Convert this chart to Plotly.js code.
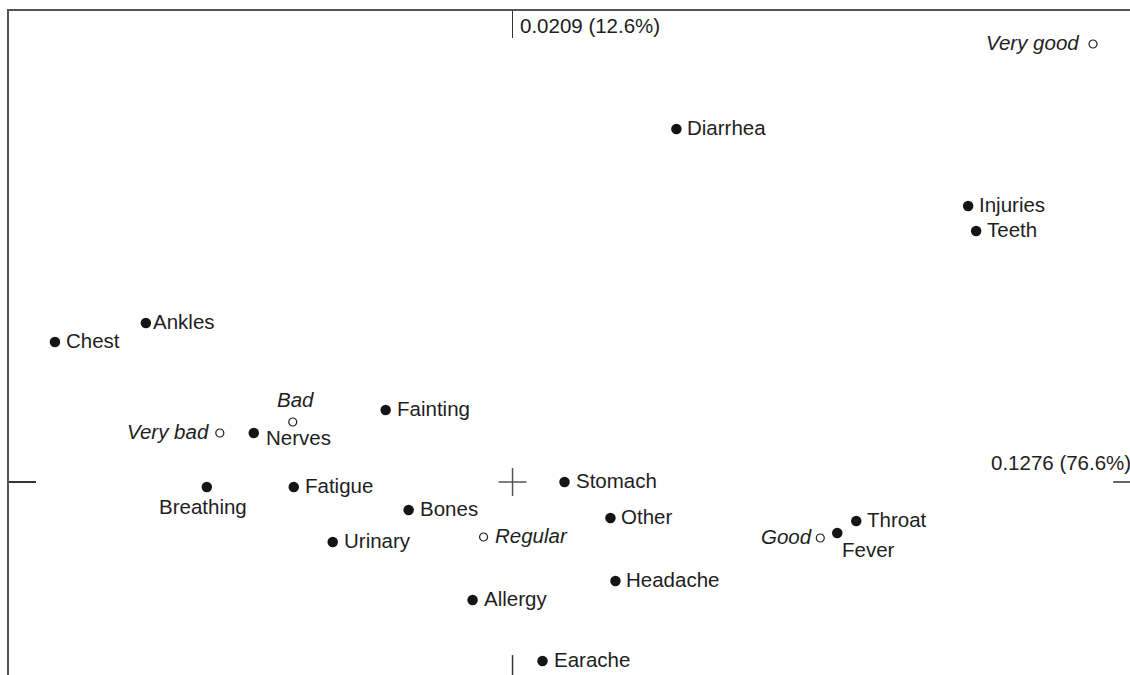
<!DOCTYPE html>
<html>
<head>
<meta charset="utf-8">
<script src="https://cdn.plot.ly/plotly-3.0.1.min.js"></script>
<style>html,body{margin:0;padding:0;background:#fff;}#chart{width:1130px;height:675px;}</style>
</head>
<body>
<div id="chart"></div>
<script>
// Row points (symptoms) - filled markers
var symptoms = ["Diarrhea","Injuries","Teeth","Ankles","Chest","Fainting","Nerves","Breathing","Fatigue","Stomach","Bones","Other","Urinary","Fever","Throat","Headache","Allergy","Earache"];
var symptomX = [0.164, 0.456, 0.464, -0.367, -0.458, -0.127, -0.259, -0.306, -0.219, 0.052, -0.104, 0.098, -0.180, 0.325, 0.344, 0.103, -0.040, 0.030];
var symptomY = [0.353, 0.276, 0.251, 0.159, 0.140, 0.072, 0.049, -0.005, -0.005, 0.000, -0.028, -0.036, -0.060, -0.051, -0.039, -0.099, -0.118, -0.179];
var symptomLabelPos = ["right","right","right","rightTight","right","right","belowRight","below","right","right","right","right","right","belowRightTight","right","right","right","right"];

// Column points (health status) - open markers
var health = ["Very good","Bad","Very bad","Regular","Good"];
var healthX = [0.581, -0.220, -0.293, -0.029, 0.308];
var healthY = [0.438, 0.060, 0.049, -0.055, -0.056];
var healthLabelPos = ["leftWide","above","left","right","leftTight"];

// Axis info
var axisLabels = ["0.1276 (76.6%)", "0.0209 (12.6%)"];

var xRange = [-0.504, 0.618];
var yRange = [-0.193, 0.471];

var FONT = "Liberation Sans, Arial, Helvetica, sans-serif";
var FS = 20.5;
var TXT = "#1e1e1e";

function labelAnn(x, y, text, pos, italic) {
  var a = {x: x, y: y, xref: "x", yref: "y", text: italic ? "<i>" + text + "</i>" : text,
    showarrow: false, font: {family: FONT, size: FS, color: TXT}, xanchor: "left", yanchor: "middle",
    xshift: 0, yshift: 1.5, borderpad: 0};
  if (pos === "right") { a.xanchor = "left"; a.xshift = 10; }
  else if (pos === "rightTight") { a.xanchor = "left"; a.xshift = 6; }
  else if (pos === "left") { a.xanchor = "right"; a.xshift = -10; }
  else if (pos === "leftWide") { a.xanchor = "right"; a.xshift = -13; }
  else if (pos === "leftTight") { a.xanchor = "right"; a.xshift = -7; }
  else if (pos === "above") { a.xanchor = "center"; a.xshift = 3; a.yshift = 23; }
  else if (pos === "below") { a.xanchor = "center"; a.xshift = -4; a.yshift = -19; }
  else if (pos === "belowRight") { a.xanchor = "left"; a.xshift = 11; a.yshift = -4; }
  else if (pos === "belowRightTight") { a.xanchor = "left"; a.xshift = 4; a.yshift = -16; }
  return a;
}

var annotations = [];
for (var i = 0; i < symptoms.length; i++) annotations.push(labelAnn(symptomX[i], symptomY[i], symptoms[i], symptomLabelPos[i], false));
for (var j = 0; j < health.length; j++) annotations.push(labelAnn(healthX[j], healthY[j], health[j], healthLabelPos[j], true));

// axis inertia labels
annotations.push({x: 1, xref: "paper", y: 0, yref: "y", text: axisLabels[0], showarrow: false,
  xanchor: "right", yanchor: "middle", yshift: 20, xshift: 2, font: {family: FONT, size: FS, color: TXT}, borderpad: 0});
annotations.push({x: 0, xref: "x", y: 1, yref: "paper", text: axisLabels[1], showarrow: false,
  xanchor: "left", yanchor: "top", xshift: 6, yshift: -2, font: {family: FONT, size: FS, color: TXT}, borderpad: 0});

var crossLen = 0.014;
var shapes = [
  // crosshair at origin
  {type: "line", xref: "x", yref: "y", x0: -crossLen, x1: crossLen, y0: 0, y1: 0, line: {color: "#555", width: 1.5}},
  {type: "line", xref: "x", yref: "y", x0: 0, x1: 0, y0: -crossLen, y1: crossLen, line: {color: "#555", width: 1.5}},
  // bottom tick at x=0
  {type: "line", xref: "x", yref: "paper", x0: 0, x1: 0, y0: 0, y1: 0.03, line: {color: "#333", width: 1.5}},
  // right tick at y=0
  {type: "line", xref: "paper", yref: "y", x0: 0.985, x1: 1, y0: 0, y1: 0, line: {color: "#333", width: 1.5}}
];

var traces = [
  {type: "scatter", mode: "markers", x: symptomX, y: symptomY, text: symptoms, hoverinfo: "text",
   marker: {size: 10.5, color: "#151515", line: {width: 0}}},
  {type: "scatter", mode: "markers", x: healthX, y: healthY, text: health, hoverinfo: "text",
   marker: {size: 8, color: "#fff", line: {width: 1.2, color: "#222"}}}
];

var layout = {
  width: 1130, height: 675,
  margin: {l: 9, r: 0, t: 11, b: 0, pad: 0},
  paper_bgcolor: "#fff", plot_bgcolor: "#fff",
  showlegend: false,
  xaxis: {range: xRange, side: "top", showline: true, linecolor: "#555", linewidth: 2,
    showgrid: false, zeroline: false, showticklabels: false, ticks: "inside", tickvals: [0], ticklen: 27,
    tickcolor: "#333", tickwidth: 1.5},
  yaxis: {range: yRange, side: "left", showline: true, linecolor: "#555", linewidth: 2,
    showgrid: false, zeroline: false, showticklabels: false, ticks: "inside", tickvals: [0], ticklen: 27,
    tickcolor: "#333", tickwidth: 1.5},
  annotations: annotations,
  shapes: shapes
};

Plotly.newPlot("chart", traces, layout, {displayModeBar: false, staticPlot: true});
</script>
</body>
</html>
